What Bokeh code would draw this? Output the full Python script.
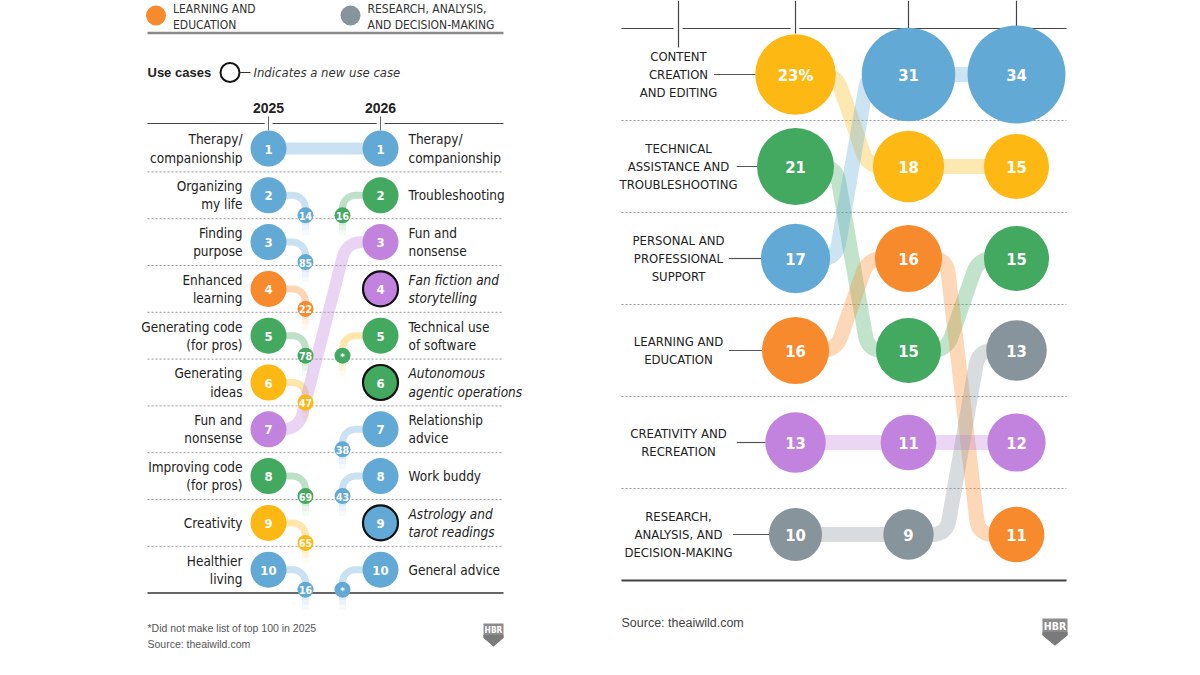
import numpy as np
from bokeh.plotting import figure
from bokeh.models import Range1d
from bokeh.core.properties import value
from bokeh.embed import file_html
from bokeh.resources import INLINE

# ---------------- data ----------------
legend_labels = ["LEARNING AND\nEDUCATION", "RESEARCH, ANALYSIS,\nAND DECISION-MAKING"]
legend_cats = ["learning", "research"]

years = ["2025", "2026"]
uses_2025 = ["Therapy/\ncompanionship", "Organizing\nmy life", "Finding\npurpose", "Enhanced\nlearning",
             "Generating code\n(for pros)", "Generating\nideas", "Fun and\nnonsense",
             "Improving code\n(for pros)", "Creativity", "Healthier\nliving"]
cat_2025 = ["personal", "personal", "personal", "learning", "technical", "content",
            "creativity", "technical", "content", "personal"]
next_rank_2025 = ["1", "14", "85", "22", "78", "47", "3", "69", "65", "16"]

uses_2026 = ["Therapy/\ncompanionship", "Troubleshooting", "Fun and\nnonsense", "Fan fiction and\nstorytelling",
             "Technical use\nof software", "Autonomous\nagentic operations", "Relationship\nadvice",
             "Work buddy", "Astrology and\ntarot readings", "General advice"]
cat_2026 = ["personal", "technical", "creativity", "creativity", "technical", "technical",
            "personal", "personal", "personal", "personal"]
prev_rank_2026 = ["1", "16", "7", "new", "*", "new", "38", "43", "new", "*"]
link_cat_2026 = ["personal", "technical", "creativity", None, "content", None,
                 "personal", "personal", None, "personal"]

categories = ["CONTENT\nCREATION\nAND EDITING", "TECHNICAL\nASSISTANCE AND\nTROUBLESHOOTING",
              "PERSONAL AND\nPROFESSIONAL\nSUPPORT", "LEARNING AND\nEDUCATION",
              "CREATIVITY AND\nRECREATION", "RESEARCH,\nANALYSIS, AND\nDECISION-MAKING"]
cat_keys = ["content", "technical", "personal", "learning", "creativity", "research"]
share_a = [23, 21, 17, 16, 13, 10]
share_b = [18, 15, 31, 16, 11, 9]
share_c = [15, 15, 34, 11, 12, 13]

footnote = "*Did not make list of top 100 in 2025"
source = "Source: theaiwild.com"

# ---------------- style ----------------
COLORS = {"content": "#fdb813", "technical": "#43a960", "personal": "#63a9d5",
          "learning": "#f78a2c", "creativity": "#c183dd", "research": "#88949b"}
FONT = "DejaVu Sans Condensed"
INK = "#222222"

p = figure(width=1200, height=675, x_range=Range1d(0, 1200), y_range=Range1d(675, 0),
           output_backend="svg", toolbar_location=None, min_border=0,
           x_axis_location=None, y_axis_location=None,
           background_fill_color="white", border_fill_color="white")
p.xgrid.visible = False
p.ygrid.visible = False
p.outline_line_color = None


def txt(x, y, s, size, color=INK, align="left", baseline="middle", style="normal", font=FONT, lh=1.15):
    p.text(x=[x], y=[y], text=[s], text_font=value(font), text_font_size=f"{size}px",
           text_color=color, text_align=align, text_baseline=baseline,
           text_font_style=style, text_line_height=lh)


def hline(x0, x1, y, color="#555", width=1.0, dash="solid"):
    p.line([x0, x1], [y, y], line_color=color, line_width=width, line_dash=dash)


def s_path(x1, y1, x2, y2, xm, w, rc):
    if abs(y1 - y2) < 1e-6:
        return [x1, x2], [y1, y2]
    pts = [np.array(v, dtype=float) for v in [(x1, y1), (xm - w / 2, y1), (xm + w / 2, y2), (x2, y2)]]
    out = [pts[0]]
    for i in (1, 2):
        p0, p1, p2 = pts[i - 1], pts[i], pts[i + 1]
        d0 = (p0 - p1) / np.linalg.norm(p0 - p1)
        d2 = (p2 - p1) / np.linalg.norm(p2 - p1)
        a, b = p1 + d0 * rc, p1 + d2 * rc
        for t in np.linspace(0, 1, 14):
            out.append((1 - t) ** 2 * a + 2 * (1 - t) * t * p1 + t ** 2 * b)
    out.append(pts[3])
    return [q[0] for q in out], [q[1] for q in out]


# ================= LEFT PANEL =================
LX0, LX1 = 147, 503
XA, XB = 268, 380
ROW_TOP, ROW_H = 148, 46.8
R_BIG, R_BADGE = 18, 8
BDX, BDY, RC = 37, 20, 13
n = len(uses_2025)


def ly(rank):
    return ROW_TOP + (rank - 1) * ROW_H


# legend
for k, (lab, c) in enumerate(zip(legend_labels, legend_cats)):
    lx = [155.5, 350][k]
    p.circle([lx], [15], radius=10, fill_color=COLORS[c], line_color=None)
    txt(lx + 17, 16.5, lab, 12, color="#333")
hline(LX0, LX1, 32.5, color="#8a8a8a", width=2.5)

txt(LX0, 72, "Use cases", 13, style="bold", font="Liberation Sans")
p.circle([229.5], [72], radius=9.5, fill_color=None, line_color="#111", line_width=2)
hline(239, 250, 72, color="#333", width=1)
txt(253, 72, "Indicates a new use case", 13, style="italic", color="#333")

for xv, yr in zip([XA, XB], years):
    txt(xv, 107, yr, 14, style="bold", align="center", font="Liberation Sans")
ytop = ROW_TOP - 25
hline(LX0, XA - 4, ytop, color="#444", width=1.2)
hline(XA + 4, XB - 4, ytop, color="#444", width=1.2)
hline(XB + 4, LX1, ytop, color="#444", width=1.2)
for xv in [XA, XB]:
    p.line([xv, xv], [ytop - 7, ytop + 7], line_color="#666", line_width=1)

for i in range(1, n):
    hline(LX0, LX1, ly(i) + ROW_H / 2, color="#9a9a9a", width=1, dash="2 2")
hline(LX0, LX1, ly(n) + ROW_H / 2, color="#333", width=1.5)


def tail(x, y, color):
    for k, a in enumerate([0.32, 0.22, 0.13, 0.06]):
        p.line([x, x], [y + k * 5, y + (k + 1) * 5], line_color=color, line_width=7, line_alpha=a)


badges = []  # x, y, text, color
for i in range(n):
    r_self = i + 1
    y = ly(r_self)
    col = COLORS[cat_2025[i]]
    nr = int(next_rank_2025[i])
    if nr <= n:
        xs, ys = s_path(XA, y, XB, ly(nr), (XA + XB) / 2 - 2, 48, 16)
        p.line(xs, ys, line_color=col, line_width=12, line_alpha=0.35, line_join="round")
    else:
        xb, yb = XA + BDX, y + BDY
        t = np.linspace(0, np.pi / 2, 16)
        xs = [XA] + list(xb - RC + RC * np.sin(t)) + [xb]
        ys = [y] + list(y + RC - RC * np.cos(t)) + [yb]
        p.line(xs, ys, line_color=col, line_width=7, line_alpha=0.35)
        tail(xb, yb, col)
        badges.append((xb, yb, next_rank_2025[i], col))

for i in range(n):
    y = ly(i + 1)
    pr = prev_rank_2026[i]
    if pr == "new" or (pr.isdigit() and int(pr) <= n):
        continue
    lc = COLORS[link_cat_2026[i]]
    xb, yb = XB - BDX - 1, y + BDY
    t = np.linspace(0, np.pi / 2, 16)
    xs = [xb] + list(xb + RC - RC * np.cos(t)) + [XB]
    ys = [yb] + list(y + RC - RC * np.sin(t)) + [y]
    p.line(xs, ys, line_color=lc, line_width=7, line_alpha=0.35)
    tail(xb, yb, lc)
    badges.append((xb, yb, pr, COLORS[cat_2026[i]]))

# big circles
ys_rank = [ly(r) for r in range(1, n + 1)]
p.circle([XA] * n, ys_rank, radius=R_BIG, fill_color=[COLORS[c] for c in cat_2025], line_color=None)
is_new = [pr == "new" for pr in prev_rank_2026]
p.circle([XB] * n, ys_rank, radius=[R_BIG - 0.5 if nw else R_BIG for nw in is_new],
         fill_color=[COLORS[c] for c in cat_2026],
         line_color=["#111" if nw else None for nw in is_new],
         line_width=2.2)
for r in range(1, n + 1):
    txt(XA, ly(r) + 0.5, str(r), 13, color="white", align="center", style="bold")
    txt(XB, ly(r) + 0.5, str(r), 13, color="white", align="center", style="bold")

# badges
for bx, by, bt, bc in badges:
    p.circle([bx], [by], radius=R_BADGE, fill_color=bc, line_color=None)
    txt(bx, by + 0.5, bt, 10.5 if bt != "*" else 9.5, color="white", align="center", style="bold")

# row labels
for i in range(n):
    y = ly(i + 1)
    txt(XA - 26, y, uses_2025[i], 13.5, align="right")
    txt(XB + 28, y, uses_2026[i], 13.5, style="italic" if is_new[i] else "normal")

txt(LX0, 627, footnote, 10.5, color="#555", font="Liberation Sans")
txt(LX0, 643, source, 10.5, color="#555", font="Liberation Sans")


def hbr(x0, y0, w, h):
    xs = [x0, x0 + w, x0 + w, x0 + w / 2, x0]
    ys = [y0, y0, y0 + 0.62 * h, y0 + h, y0 + 0.62 * h]
    p.patch(xs, ys, fill_color="#8c8c8c", line_color=None)
    p.patch([x0, x0 + w, x0 + w, x0 + w / 2, x0],
            [y0 + 0.5 * h, y0 + 0.5 * h, y0 + 0.62 * h, y0 + h, y0 + 0.62 * h],
            fill_color="#7a7a7a", line_color=None)
    txt(x0 + w / 2, y0 + 0.27 * h, "HBR", 0.42 * w, color="white", align="center", style="bold")


hbr(483, 623, 20, 23)

# ================= RIGHT PANEL =================
RX0, RX1 = 621, 1066
COLS = [795, 908, 1016]
RROW_TOP, RROW_H = 74, 92
R_SCALE = 8.4
LABEL_X = 678
m = len(categories)
columns = [share_a, share_b, share_c]


def ry(rank):
    return RROW_TOP + (rank - 1) * RROW_H


ranks = []
for vals in columns:
    order = sorted(range(m), key=lambda k: -vals[k])
    rk = [0] * m
    for pos, k in enumerate(order):
        rk[k] = pos + 1
    ranks.append(rk)

# header rule with ticks
ytop_r = 28
gaps = [LABEL_X, COLS[0]]
segs = [RX0] + sum([[g - 5, g + 4] for g in gaps], []) + [RX1]
for k in range(0, len(segs), 2):
    hline(segs[k], segs[k + 1], ytop_r, color="#444", width=1.2)
for xv, yb in zip([LABEL_X] + COLS, [47, 33, 28, 28]):
    p.line([xv, xv], [0, yb], line_color="#444", line_width=1.2)

for i in range(1, m):
    hline(RX0, RX1, ry(i) + RROW_H / 2, color="#9a9a9a", width=1, dash="2 2")
hline(RX0, RX1, ry(m) + RROW_H / 2, color="#444", width=2)

# bands
for i in range(m):
    col = COLORS[cat_keys[i]]
    for j in range(len(columns) - 1):
        x1, x2 = COLS[j], COLS[j + 1]
        xs, ys = s_path(x1, ry(ranks[j][i]), x2, ry(ranks[j + 1][i]), (x1 + x2) / 2, 32, 15)
        p.line(xs, ys, line_color=col, line_width=15, line_alpha=0.33, line_join="round")

# circles
for j, vals in enumerate(columns):
    xs = [COLS[j]] * m
    ys = [ry(ranks[j][i]) for i in range(m)]
    rs = [R_SCALE * np.sqrt(v) for v in vals]
    p.circle(xs, ys, radius=rs, fill_color=[COLORS[c] for c in cat_keys], line_color=None)
    for i in range(m):
        lab = f"{vals[i]}%" if (j == 0 and ranks[j][i] == 1) else str(vals[i])
        txt(COLS[j], ys[i] + 0.5, lab, 16.5, color="white", align="center", style="bold")

# category labels with leaders
for i in range(m):
    y = ry(ranks[0][i])
    txt(LABEL_X, y, categories[i], 13, align="center", lh=1.2)
    lines = categories[i].split("\n")
    if len(lines) % 2 == 1:
        ln = len(lines[len(lines) // 2])
    else:
        ln = max(len(lines[len(lines) // 2 - 1]), len(lines[len(lines) // 2]))
    x_start = LABEL_X + ln * 7.6 / 2 + 5
    x_end = COLS[0] - R_SCALE * np.sqrt(share_a[i])
    hline(x_start, x_end, y, color="#555", width=1.2)

txt(RX0, 622, source, 12.5, color="#444", font="Liberation Sans")
hbr(1042, 618, 25, 27)

open("out.html", "w").write(file_html(p, INLINE))
